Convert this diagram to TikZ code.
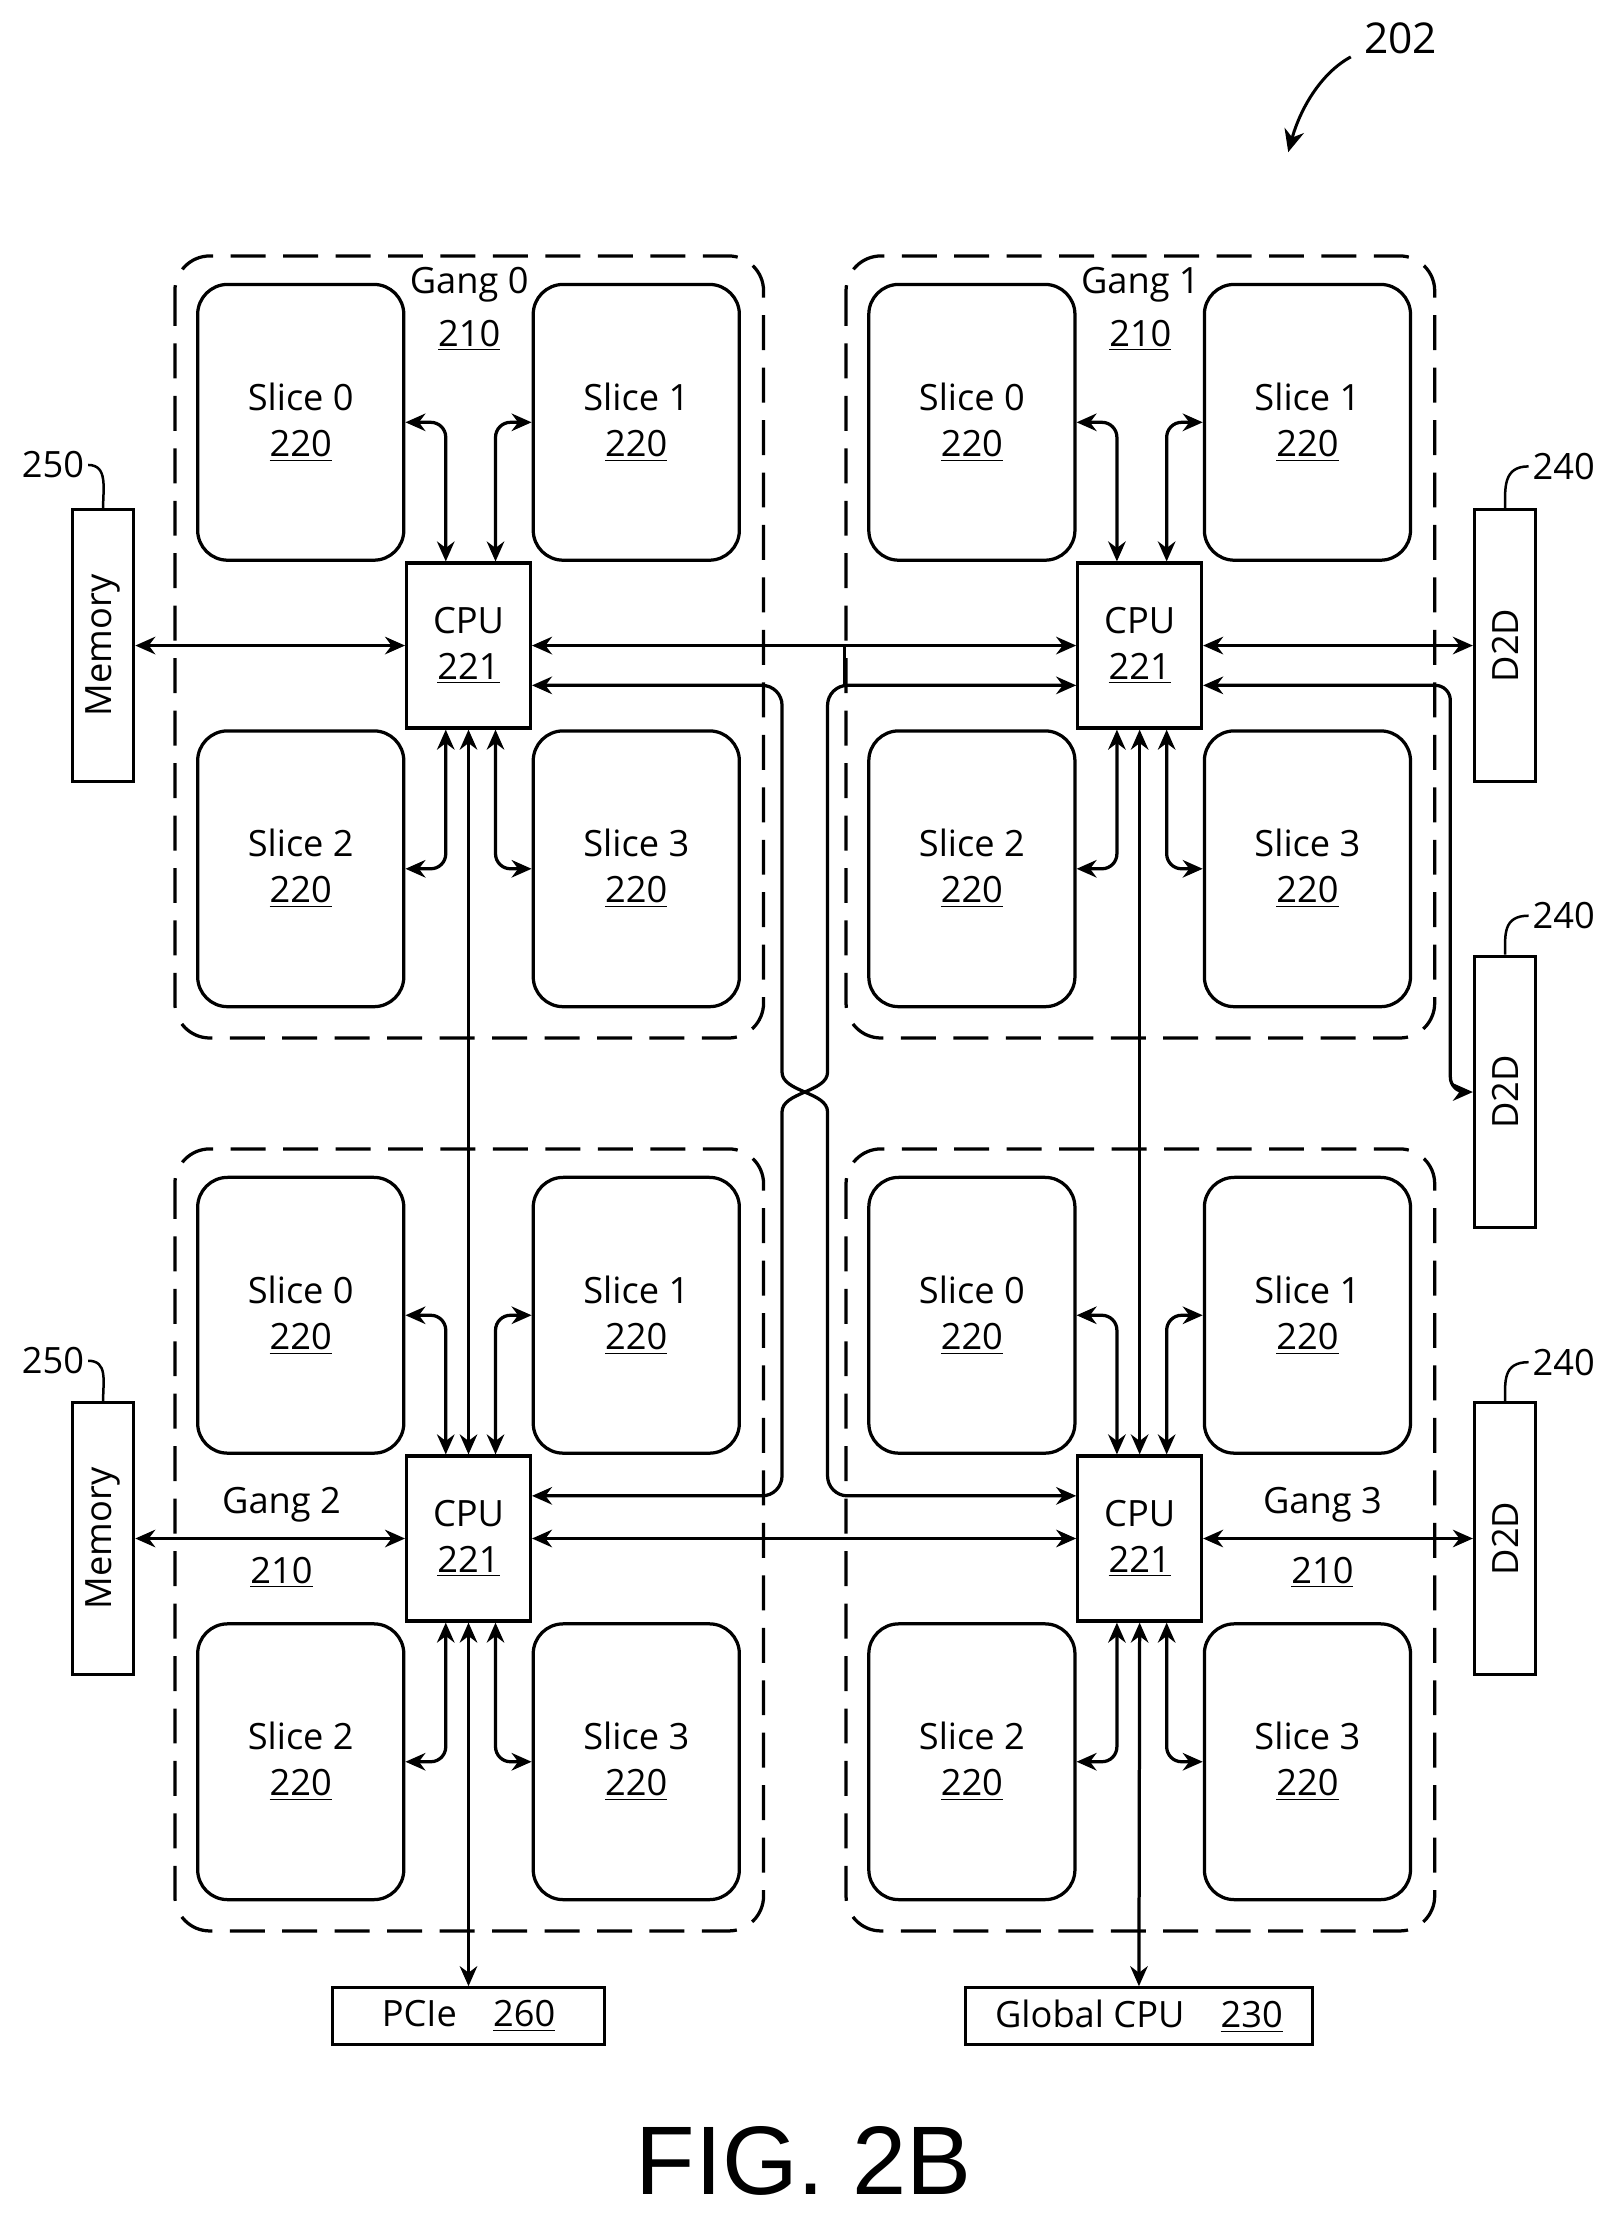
\documentclass[tikz,border=0pt]{standalone}
\usepackage{fontspec}
\setmainfont{Open Sans}
\newfontfamily\figfont{Liberation Sans}
\usetikzlibrary{arrows.meta}
\begin{document}
\begin{tikzpicture}[x=0.02cm,y=-0.02cm,
  line width=1.3pt,
  >={Stealth[length=8pt,width=7pt]},
  txt/.style={font=\fontsize{14.5}{18.5}\selectfont, align=center},
  slice/.style={draw, rounded corners=12pt, minimum width=2.9cm, minimum height=3.88cm, txt},
  cpu/.style={draw, minimum width=1.74cm, minimum height=2.32cm, txt, inner sep=0pt},
  gang/.style={draw, dashed, dash pattern=on 14pt off 7pt, rounded corners=14pt},
  side/.style={draw, minimum width=0.86cm, minimum height=3.82cm, inner sep=0pt, txt},
  lbl/.style={font=\fontsize{14.5}{18}\selectfont, inner sep=1pt},
  link/.style={<->, rounded corners=6pt}]
\useasboundingbox (0,0) rectangle (1131,1562);

\foreach \g/\dx/\dy in {0/0/0, 1/472/0, 2/0/628, 3/472/628}{
  \begin{scope}[shift={(\dx,\dy)}]
    \draw[gang] (123,180) rectangle (537,730);
    \node[slice] (s\g-0) at (211.5,297) {Slice 0\\\underline{220}};
    \node[slice] (s\g-1) at (447.5,297) {Slice 1\\\underline{220}};
    \node[slice] (s\g-2) at (211.5,611) {Slice 2\\\underline{220}};
    \node[slice] (s\g-3) at (447.5,611) {Slice 3\\\underline{220}};
    \node[cpu] (c\g) at (329.5,454) {CPU\\\underline{221}};
    \draw[link] ([xshift=-0.32cm]c\g.north) |- (s\g-0.east);
    \draw[link] ([xshift=0.38cm]c\g.north) |- (s\g-1.west);
    \draw[link] ([xshift=-0.32cm]c\g.south) |- (s\g-2.east);
    \draw[link] ([xshift=0.38cm]c\g.south) |- (s\g-3.west);
  \end{scope}
}
% gang labels
\node[lbl] (g0) at (330,200) {Gang 0};
\node[lbl] (g0n) at (330,236) {\underline{210}};
\node[lbl] (g1) at (802,200) {Gang 1};
\node[lbl] (g1n) at (802,236) {\underline{210}};
\node[lbl] (g2) at (198,1058) {Gang 2};
\node[lbl] (g2n) at (198,1106) {\underline{210}};
\node[lbl] (g3) at (930,1058) {Gang 3};
\node[lbl] (g3n) at (930,1106) {\underline{210}};

% side blocks
\node[side] (m0) at (72.5,454) {\rotatebox{90}{Memory}};
\node[side] (m1) at (72.5,1082) {\rotatebox{90}{Memory}};
\node[side] (d0) at (1058.5,454) {\rotatebox{90}{D2D}};
\node[side] (d1) at (1058.5,768) {\rotatebox{90}{D2D}};
\node[side] (d2) at (1058.5,1082) {\rotatebox{90}{D2D}};
\node[lbl, anchor=east] (l250a) at (62,327) {250};
\node[lbl, anchor=east] (l250b) at (62,957) {250};
\node[lbl, anchor=west] (l240a) at (1075,328) {240};
\node[lbl, anchor=west] (l240b) at (1075,644) {240};
\node[lbl, anchor=west] (l240c) at (1075,958) {240};
\draw[line width=1pt] (l250a.east) .. controls +(14,0) and +(0,-14) .. (m0.north);
\draw[line width=1pt] (l250b.east) .. controls +(14,0) and +(0,-14) .. (m1.north);
\draw[line width=1pt] (l240a.west) .. controls +(-18,0) and +(0,-14) .. (d0.north);
\draw[line width=1pt] (l240b.west) .. controls +(-18,0) and +(0,-14) .. (d1.north);
\draw[line width=1pt] (l240c.west) .. controls +(-18,0) and +(0,-14) .. (d2.north);

% bottom blocks
\node[draw, minimum width=3.82cm, minimum height=0.8cm, txt] (pcie) at (329.5,1418) {PCIe\quad\underline{260}};
\node[draw, minimum width=4.88cm, minimum height=0.8cm, txt] (gcpu) at (801,1418) {Global CPU\quad\underline{230}};

% horizontal links
\draw[<->] (m0.east) -- (c0.west);
\draw[<->] (c0.east) -- (c1.west);
\draw[<->] (c1.east) -- (d0.west);
\draw[<->] (m1.east) -- (c2.west);
\draw[<->] (c2.east) -- (c3.west);
\draw[<->] (c3.east) -- (d2.west);
\draw[link] ([yshift=-0.56cm]c1.east) -- (1020,482) -- (1020,768) -- (d1.west);

% vertical links
\draw[<->] (c0.south) -- (c2.north);
\draw[<->] (c1.south) -- (c3.north);
\draw[<->] (c2.south) -- (pcie.north);
\draw[<->] (c3.south) -- (gcpu.north);

% crossing links
\draw[<->, rounded corners=8pt] ([yshift=-0.56cm]c0.east) -- (550,482) -- (550,740)
  .. controls (550,768) and (582,768) .. (582,796) -- (582,1052) -- ([yshift=0.6cm]c3.west);
\draw[<->, rounded corners=8pt] ([yshift=-0.56cm]c1.west) -- (582,482) -- (582,740)
  .. controls (582,768) and (550,768) .. (550,796) -- (550,1052) -- ([yshift=0.6cm]c2.east);
\coordinate (stubA) at (594,455);
\coordinate (stubB) at (594,482);
\draw (stubA) -- (stubB);

% figure reference
\node[lbl, font=\fontsize{17}{20}\selectfont] (r202) at (985,27) {202};
\draw[-{Stealth[length=9pt,width=8pt]}, line width=1.2pt] (950,40) .. controls (928,52) and (914,78) .. (906,107);
\node[font=\figfont\fontsize{39}{44}\selectfont] (fig) at (565,1520) {FIG. 2B};
\end{tikzpicture}
\end{document}
